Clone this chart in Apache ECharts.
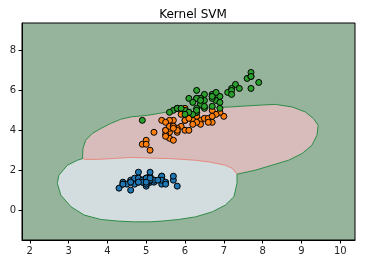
<!DOCTYPE html>
<html><head><meta charset="utf-8">
<script src="https://cdn.jsdelivr.net/npm/echarts@6/dist/echarts.min.js"></script>
<style>html,body{margin:0;padding:0;background:#fff}#c{width:366px;height:264px}</style>
</head><body><div id="c"></div>
<script>
// Iris: sepal length (x) vs petal length (y)
const setosa = [[5.1,1.4],[4.9,1.4],[4.7,1.3],[4.6,1.5],[5.0,1.4],[5.4,1.7],[4.6,1.4],[5.0,1.5],[4.4,1.4],[4.9,1.5],[5.4,1.5],[4.8,1.6],[4.8,1.4],[4.3,1.1],[5.8,1.2],[5.7,1.5],[5.4,1.3],[5.1,1.4],[5.7,1.7],[5.1,1.5],[5.4,1.7],[5.1,1.5],[4.6,1.0],[5.1,1.7],[4.8,1.9],[5.0,1.6],[5.0,1.6],[5.2,1.5],[5.2,1.4],[4.7,1.6],[4.8,1.6],[5.4,1.5],[5.2,1.5],[5.5,1.4],[4.9,1.5],[5.0,1.2],[5.5,1.3],[4.9,1.4],[4.4,1.3],[5.1,1.5],[5.0,1.3],[4.5,1.3],[4.4,1.3],[5.0,1.6],[5.1,1.9],[4.8,1.4],[5.1,1.6],[4.6,1.4],[5.3,1.5],[5.0,1.4]];
const versicolor = [[7.0,4.7],[6.4,4.5],[6.9,4.9],[5.5,4.0],[6.5,4.6],[5.7,4.5],[6.3,4.7],[4.9,3.3],[6.6,4.6],[5.2,3.9],[5.0,3.5],[5.9,4.2],[6.0,4.0],[6.1,4.7],[5.6,3.6],[6.7,4.4],[5.6,4.5],[5.8,4.1],[6.2,4.5],[5.6,3.9],[5.9,4.8],[6.1,4.0],[6.3,4.9],[6.1,4.7],[6.4,4.3],[6.6,4.4],[6.8,4.8],[6.7,5.0],[6.0,4.5],[5.7,3.5],[5.5,3.8],[5.5,3.7],[5.8,3.9],[6.0,5.1],[5.4,4.5],[6.0,4.5],[6.7,4.7],[6.3,4.4],[5.6,4.1],[5.5,4.0],[5.5,4.4],[6.1,4.6],[5.8,4.0],[5.0,3.3],[5.6,4.2],[5.7,4.2],[5.7,4.2],[6.2,4.3],[5.1,3.0],[5.7,4.1]];
const virginica = [[6.3,6.0],[5.8,5.1],[7.1,5.9],[6.3,5.6],[6.5,5.8],[7.6,6.6],[4.9,4.5],[7.3,6.3],[6.7,5.8],[7.2,6.1],[6.5,5.1],[6.4,5.3],[6.8,5.5],[5.7,5.0],[5.8,5.1],[6.4,5.3],[6.5,5.5],[7.7,6.7],[7.7,6.9],[6.0,5.0],[6.9,5.7],[5.6,4.9],[7.7,6.7],[6.3,4.9],[6.7,5.7],[7.2,6.0],[6.2,4.8],[6.1,4.9],[6.4,5.6],[7.2,5.8],[7.4,6.1],[7.9,6.4],[6.4,5.6],[6.3,5.1],[6.1,5.6],[7.7,6.1],[6.3,5.6],[6.4,5.5],[6.0,4.8],[6.9,5.4],[6.7,5.6],[6.9,5.1],[5.8,5.1],[6.8,5.9],[6.7,5.7],[6.7,5.2],[6.3,5.0],[6.5,5.2],[6.2,5.4],[5.9,5.1]];

// Decision-region boundaries (data coordinates)
const pinkOuter = [[3.36,2.58],[3.37,3.09],[3.44,3.50],[3.61,3.84],[3.83,4.09],[4.08,4.34],[4.34,4.55],[4.60,4.67],[5.03,4.75],[5.46,4.89],[5.89,5.00],[6.31,5.09],[6.74,5.14],[7.17,5.17],[7.56,5.22],[8.00,5.27],[8.33,5.30],[8.76,5.17],[9.10,4.92],[9.31,4.59],[9.43,4.25],[9.40,3.75],[9.27,3.25],[9.02,2.84],[8.67,2.50],[8.24,2.25],[7.81,2.00],[7.34,1.80]];
const pinkBlueEdge = [[7.34,1.80],[7.22,2.09],[7.04,2.25],[6.66,2.40],[6.27,2.50],[5.63,2.58],[4.60,2.64],[3.83,2.55],[3.44,2.54],[3.36,2.58]];
const blueOuter = [[7.34,1.80],[7.34,1.34],[7.26,0.67],[7.04,0.25],[6.70,-0.09],[6.27,-0.34],[5.84,-0.47],[5.41,-0.55],[5.11,-0.59],[4.68,-0.59],[4.26,-0.55],[3.83,-0.47],[3.40,-0.25],[3.06,0.17],[2.80,0.75],[2.71,1.34],[2.75,1.75],[2.97,2.25],[3.23,2.50],[3.36,2.58]];

const xTicks = [2,3,4,5,6,7,8,9,10];
const yTicks = [0,2,4,6,8];
const xRange = [1.8, 10.38];
const yRange = [-1.5, 9.38];

const pinkPoly = pinkOuter.concat(pinkBlueEdge.slice(1));
const bluePoly = pinkBlueEdge.concat(blueOuter.slice().reverse().slice(1));

function shapeSeries(pts, opts, z) {
  return {
    type: 'custom', coordinateSystem: 'cartesian2d', data: [0], z: z, silent: true, clip: true,
    renderItem: function (params, api) {
      const p = pts.map(function (d) { return api.coord(d); });
      if (opts.line) {
        return { type: 'polyline', shape: { points: p }, style: { fill: null, stroke: opts.stroke, lineWidth: opts.lineWidth || 1 } };
      }
      return { type: 'polygon', shape: { points: p }, style: { fill: opts.fill, stroke: null } };
    }
  };
}

function scatter(data, color) {
  return { type: 'scatter', data: data, symbol: 'circle', symbolSize: 6, z: 10,
    itemStyle: { color: color, borderColor: '#000', borderWidth: 1, opacity: 1 } };
}

const chart = echarts.init(document.getElementById('c'), null, { renderer: 'canvas' });
const fontFamily = 'DejaVu Sans';
chart.setOption({
  animation: false,
  title: { text: 'Kernel SVM', left: 188, top: 4, textAlign: 'center',
    textStyle: { fontFamily: fontFamily, fontSize: 12, fontWeight: 'normal', color: '#000' } },
  grid: { left: 22, right: 11, top: 23, bottom: 24, show: true, backgroundColor: '#96b49c', borderColor: '#000', borderWidth: 1 },
  xAxis: {
    type: 'value', min: xRange[0], max: xRange[1],
    axisLine: { show: true, onZero: false, lineStyle: { color: '#000', width: 1 } },
    axisTick: { show: true, inside: false, length: 3.5, customValues: xTicks, lineStyle: { color: '#000' } },
    axisLabel: { customValues: xTicks, margin: 6, fontFamily: fontFamily, fontSize: 10, color: '#262626' },
    splitLine: { show: false }
  },
  yAxis: {
    type: 'value', min: yRange[0], max: yRange[1],
    axisLine: { show: true, onZero: false, lineStyle: { color: '#000', width: 1 } },
    axisTick: { show: true, inside: false, length: 3.5, customValues: yTicks, lineStyle: { color: '#000' } },
    axisLabel: { customValues: yTicks, margin: 6, fontFamily: fontFamily, fontSize: 10, color: '#262626' },
    splitLine: { show: false }
  },
  series: [
    shapeSeries(pinkPoly, { fill: '#d8bcbb' }, 1),
    shapeSeries(bluePoly, { fill: '#d3dcdf' }, 1),
    shapeSeries(pinkBlueEdge, { line: true, stroke: '#e88a80', lineWidth: 1 }, 2),
    shapeSeries(pinkOuter, { line: true, stroke: '#2f8c48', lineWidth: 1 }, 3),
    shapeSeries(blueOuter, { line: true, stroke: '#2f8c48', lineWidth: 1 }, 3),
    scatter(setosa, '#1f77b4'),
    scatter(versicolor, '#ff7f0e'),
    scatter(virginica, '#2ca02c')
  ]
});
</script></body></html>
